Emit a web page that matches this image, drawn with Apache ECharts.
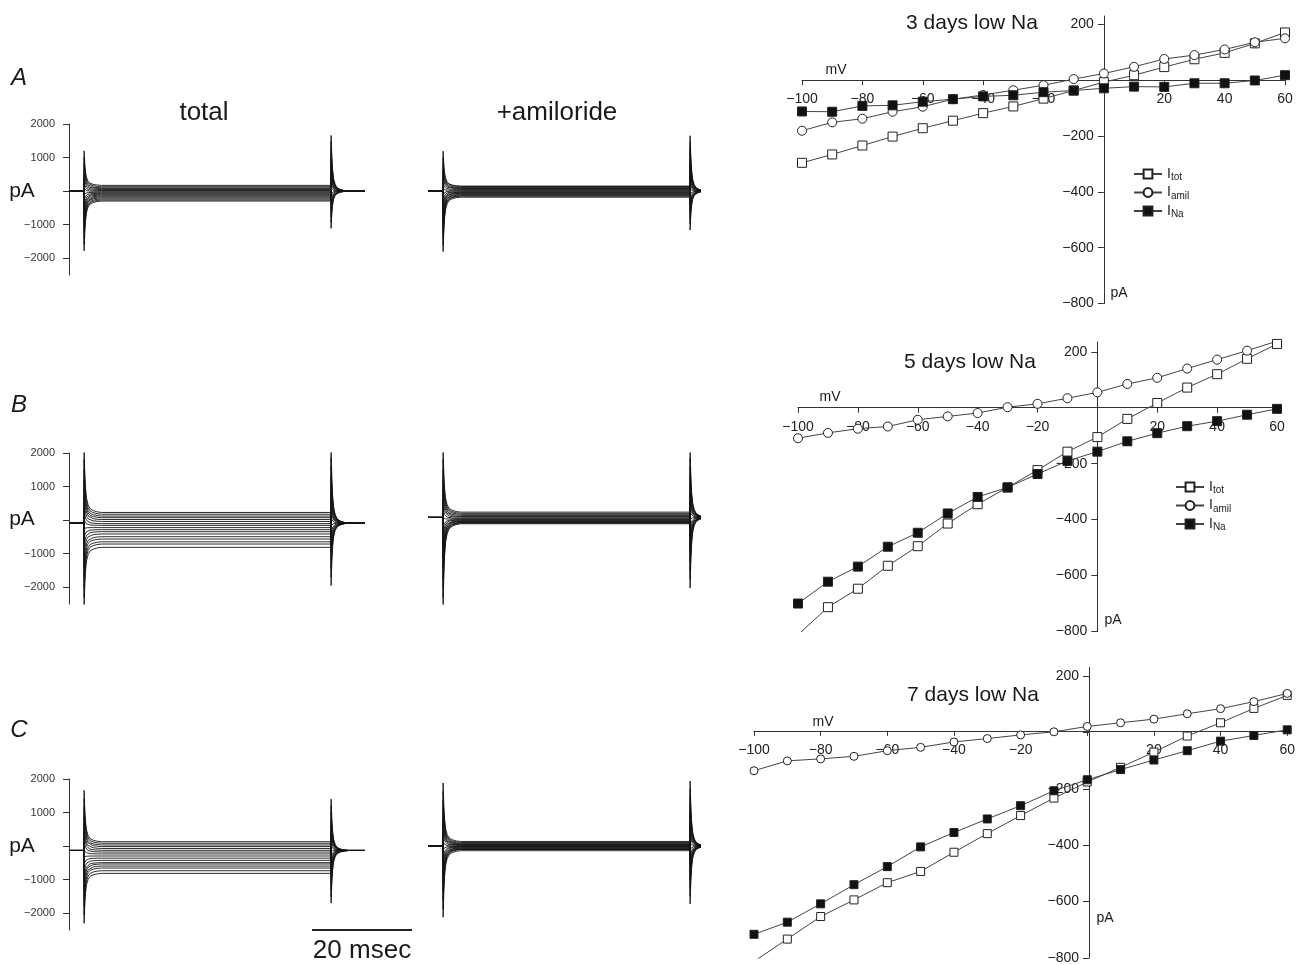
<!DOCTYPE html>
<html><head><meta charset="utf-8">
<script src="https://cdn.jsdelivr.net/npm/echarts/dist/echarts.min.js"></script>
<style>html,body{margin:0;padding:0;background:#fff}#c{width:1298px;height:965px}</style>
</head><body><div id="c"></div>
<script>
// ---------- data ----------
const voltages = [-100,-90,-80,-70,-60,-50,-40,-30,-20,-10,0,10,20,30,40,50,60];
const rowTitles = ['3 days low Na','5 days low Na','7 days low Na'];
const rowLetters = ['A','B','C'];
// I-V curves (pA)
const ivTotA  = [-296,-266,-234,-202,-172,-145,-118,-94,-66,-37,-7,18,47,75,98,132,171];
const ivAmilA = [-181,-151,-138,-113,-95,-68,-53,-36,-18,4,24,48,76,90,110,136,150];
const ivNaA   = [-112,-113,-92,-90,-77,-68,-58,-54,-43,-37,-29,-23,-24,-11,-11,-1,18];
const ivTotB  = [-812,-713,-647,-565,-495,-414,-345,-285,-223,-157,-105,-40,17,72,120,175,228];
const ivAmilB = [-109,-90,-75,-67,-43,-31,-19,2,14,34,55,85,107,140,172,204,238];
const ivNaB   = [-700,-622,-568,-497,-447,-378,-319,-285,-237,-190,-157,-120,-91,-66,-48,-25,-4];
const ivTotC  = [-812,-733,-653,-594,-533,-493,-425,-359,-295,-233,-176,-124,-70,-13,34,85,131];
const ivAmilC = [-136,-101,-94,-85,-65,-53,-34,-22,-9,2,21,34,47,66,84,109,138];
const ivNaC   = [-716,-673,-608,-540,-476,-406,-355,-307,-260,-207,-168,-132,-98,-65,-31,-11,9];
const traceYTicks = [-2000,-1000,0,1000,2000];
// recording protocol (ms) and current traces
const stepOnMs = 3.0, stepOffMs = 52.4, totalEndMs = 59.2, amilEndMs = 54.4;
const decayMs   = [0, 0.15, 0.3, 0.5, 0.8, 1.2, 1.8, 2.6, 3.5];
const decayFrac = [1, 0.6, 0.38, 0.22, 0.12, 0.06, 0.03, 0.01, 0];
const holdTotal = [0, -90, -130];
const holdAmil  = [0, 80, 0];
const totOnUp = [1200, 2100, 1660], totOnDown = [-1780, -2600, -2300];
const totOffUp = [1660, 2100, 1400], totOffDown = [-1110, -1950, -1700];
const amilOnUp = [1190, 2100, 1880], amilOnDown = [-1800, -2600, -2120];
const amilOffUp = [1650, 2100, 1940], amilOffDown = [-1160, -2020, -1720];
const scaleBarStartMs = 48.6, scaleBarLenMs = 20;

// ---------- layout ----------
const FF = 'Liberation Sans, Arial, Helvetica, sans-serif';
const ivTot = [ivTotA, ivTotB, ivTotC], ivAmil = [ivAmilA, ivAmilB, ivAmilC], ivNa = [ivNaA, ivNaB, ivNaC];
const traceTop = [124, 453, 779];
const ivGrid = [
  {left: 802, width: 483, top: 16, height: 287.5, max: 230},
  {left: 798, width: 479, top: 342, height: 289.5, max: 235},
  {left: 754, width: 536, top: 667.5, height: 292.5, max: 230}
];
const fmt = v => v === 0 ? '' : (v < 0 ? '\u2212' + Math.abs(v) : String(v));

const grid = [], xAxis = [], yAxis = [], series = [];
function addTraceGrid(left, width, top, xmax, showY) {
  grid.push({left, width, top, height: 151});
  const gi = grid.length - 1;
  xAxis.push({gridIndex: gi, type: 'value', min: 0, max: xmax, show: false});
  yAxis.push({gridIndex: gi, type: 'value', min: -2500, max: 2000, show: showY,
    axisLine: {show: true, lineStyle: {color: '#333', width: 1}},
    axisTick: {show: true, length: 6, customValues: traceYTicks, lineStyle: {color: '#333'}},
    axisLabel: {customValues: traceYTicks, formatter: fmt, fontSize: 11, color: '#333', margin: 14, fontFamily: FF},
    splitLine: {show: false}});
  return gi;
}
function buildTrace(level, base, on, off, tEnd) {
  const pts = [[0, base], [stepOnMs, base], [stepOnMs + 0.02, on]];
  for (let k = 1; k < decayMs.length; k++) pts.push([stepOnMs + 0.02 + decayMs[k], level + (on - level) * decayFrac[k]]);
  pts.push([stepOffMs, level], [stepOffMs + 0.02, off]);
  for (let k = 1; k < decayMs.length; k++) pts.push([stepOffMs + 0.02 + decayMs[k], base + (off - base) * decayFrac[k]]);
  pts.push([tEnd, base]);
  return pts;
}
function addTraces(gi, levels, base, onUp, onDown, offUp, offDown, tEnd) {
  const n = levels.length - 1;
  levels.forEach((L, i) => {
    const f = i / n;
    const on = onDown + (onUp - onDown) * f;
    const off = offUp + (offDown - offUp) * f;
    series.push({type: 'line', xAxisIndex: gi, yAxisIndex: gi, data: buildTrace(L, base, on, off, tEnd),
      showSymbol: false, silent: true, clip: true, lineStyle: {color: '#141414', width: 0.9}});
  });
}
for (let r = 0; r < 3; r++) {
  const g1 = addTraceGrid(69, 296, traceTop[r], totalEndMs, true);
  addTraces(g1, ivTot[r], holdTotal[r], totOnUp[r], totOnDown[r], totOffUp[r], totOffDown[r], totalEndMs);
  const g2 = addTraceGrid(428, 272, traceTop[r], amilEndMs, false);
  addTraces(g2, ivAmil[r], holdAmil[r], amilOnUp[r], amilOnDown[r], amilOffUp[r], amilOffDown[r], amilEndMs);
}
// I-V grids: axes cross at the origin (moved there with offsets)
for (let r = 0; r < 3; r++) {
  const g = ivGrid[r];
  grid.push({left: g.left, width: g.width, top: g.top, height: g.height});
  const gi = grid.length - 1;
  const xOff = -g.height * 800 / (g.max + 800);   // bottom -> y = 0
  const yOff = -g.width * 100 / 160;              // left -> x = 0
  xAxis.push({gridIndex: gi, type: 'value', min: -100, max: 60, interval: 20, position: 'bottom', offset: xOff,
    axisLine: {onZero: false, lineStyle: {color: '#333', width: 1}},
    axisTick: {length: 5, lineStyle: {color: '#333'}},
    axisLabel: {formatter: fmt, fontSize: 14, color: '#222', margin: 12, fontFamily: FF, showMinLabel: true, showMaxLabel: true},
    splitLine: {show: false}});
  yAxis.push({gridIndex: gi, type: 'value', min: -800, max: g.max, interval: 200, position: 'left', offset: yOff,
    axisLine: {show: true, onZero: false, lineStyle: {color: '#333', width: 1}},
    axisTick: {show: true, length: 6, lineStyle: {color: '#333'}},
    axisLabel: {formatter: fmt, fontSize: 14, color: '#222', margin: 10, fontFamily: FF, showMaxLabel: false},
    splitLine: {show: false}});
  const sz = r === 2 ? 8 : 9;
  const mk = (name, vals, sym, fill) => series.push({name, type: 'line', xAxisIndex: gi, yAxisIndex: gi,
    data: voltages.map((v, i) => [v, vals[i]]), symbol: sym, symbolSize: sz, showSymbol: true,
    lineStyle: {color: '#444', width: 1}, itemStyle: {color: fill, borderColor: '#222', borderWidth: 1}, silent: true});
  mk('Itot', ivTot[r], 'rect', '#fff');
  mk('Iamil', ivAmil[r], 'circle', '#fff');
  mk('INa', ivNa[r], 'rect', '#111');
}
// scale bar grid
grid.push({left: 69, width: 350, top: 925, height: 10});
const sg = grid.length - 1;
xAxis.push({gridIndex: sg, type: 'value', min: 0, max: 70, show: false});
yAxis.push({gridIndex: sg, type: 'value', min: -1, max: 1, show: false});
series.push({type: 'line', xAxisIndex: sg, yAxisIndex: sg, data: [[scaleBarStartMs, 0], [scaleBarStartMs + scaleBarLenMs, 0]],
  showSymbol: false, silent: true, lineStyle: {color: '#222', width: 2}});

// ---------- text ----------
const txt = (x, y, text, size, extra) => Object.assign({type: 'text', x, y, silent: true,
  style: Object.assign({text, fontSize: size, fontFamily: FF, fill: '#1a1a1a', align: 'center', verticalAlign: 'middle'}, extra || {})});
const graphic = [];
const letterY = [78, 405, 730];
const pAY = [191, 519, 846];
const ivTitlePos = [[972, 23], [970, 362], [973, 695]];
const mVPos = [[836, 70], [830, 397], [823, 722]];
const ivPAPos = [[1119, 293], [1113, 620], [1105, 918]];
for (let r = 0; r < 3; r++) {
  graphic.push(txt(19, letterY[r], rowLetters[r], 24, {fontStyle: 'italic'}));
  graphic.push(txt(22, pAY[r], 'pA', 21));
  graphic.push(txt(ivTitlePos[r][0], ivTitlePos[r][1], rowTitles[r], 21));
  graphic.push(txt(mVPos[r][0], mVPos[r][1], 'mV', 14));
  graphic.push(txt(ivPAPos[r][0], ivPAPos[r][1], 'pA', 14));
}
graphic.push(txt(204, 113, 'total', 26));
graphic.push(txt(557, 113, '+amiloride', 26));
graphic.push(txt(362, 951, '20 msec', 26));

const legendBase = {orient: 'vertical', itemWidth: 28, itemHeight: 11, itemGap: 3, selectedMode: false,
  data: ['Itot', 'Iamil', 'INa'], formatter: n => 'I{s|' + n.slice(1) + '}',
  textStyle: {fontSize: 14, color: '#222', fontFamily: FF, rich: {s: {fontSize: 10, color: '#222', fontFamily: FF, padding: [7, 0, 0, 0]}}}};
const legend = [Object.assign({left: 1128, top: 162}, legendBase), Object.assign({left: 1170, top: 475}, legendBase)];

const chart = echarts.init(document.getElementById('c'), null, {renderer: 'canvas'});
chart.setOption({animation: false, backgroundColor: '#fff', grid, xAxis, yAxis, series, legend, graphic});
</script></body></html>
